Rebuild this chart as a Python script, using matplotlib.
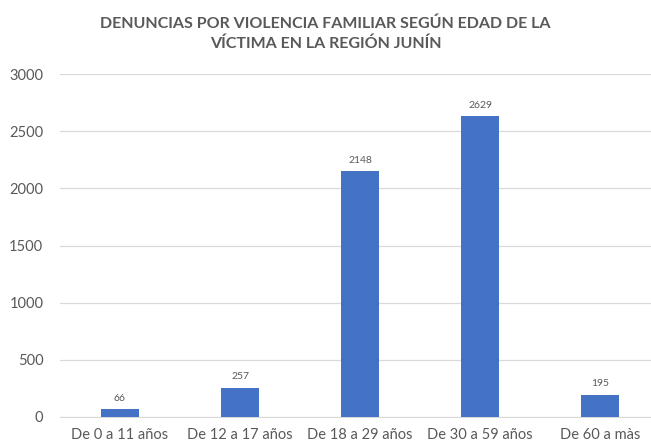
import matplotlib
matplotlib.use('Agg')
import matplotlib.pyplot as plt

# datos
categories = ['De 0 a 11 años', 'De 12 a 17 años', 'De 18 a 29 años', 'De 30 a 59 años', 'De 60 a màs']
values = [66, 257, 2148, 2629, 195]
yticks = [0, 500, 1000, 1500, 2000, 2500, 3000]

plt.rcParams['font.family'] = ['Lato', 'DejaVu Sans']
gray = '#595959'

fig = plt.figure(figsize=(6.51, 4.45), dpi=100)
ax = fig.add_axes([60 / 651, 1 - 417 / 445, 591 / 651, 343 / 445])

x = list(range(len(categories)))
ax.bar(x, values, width=0.31, color='#4472C4', zorder=3)
for xi, v in zip(x, values):
    ax.text(xi, v + 55, str(v), ha='center', va='bottom', fontsize=7.5, color=gray)

ax.set_xlim(-0.5, 4.425)
ax.set_ylim(0, 3000)
ax.set_yticks(yticks)
ax.set_xticks(x)
ax.set_xticklabels(categories)
ax.tick_params(axis='both', length=0, colors=gray, labelsize=10.5)
ax.tick_params(axis='x', pad=8)
ax.tick_params(axis='y', pad=12)
ax.grid(axis='y', color='#D9D9D9', linewidth=0.9, zorder=0)
for s in ['top', 'right', 'left']:
    ax.spines[s].set_visible(False)
ax.spines['bottom'].set_color('#D9D9D9')

fig.text(0.5, 1 - 16 / 445, 'DENUNCIAS POR VIOLENCIA FAMILIAR SEGÚN EDAD DE LA\nVÍCTIMA EN LA REGIÓN JUNÍN',
         ha='center', va='top', fontsize=11.5, fontweight='bold', color=gray, linespacing=1.5)

plt.savefig('out.png', dpi=100)
